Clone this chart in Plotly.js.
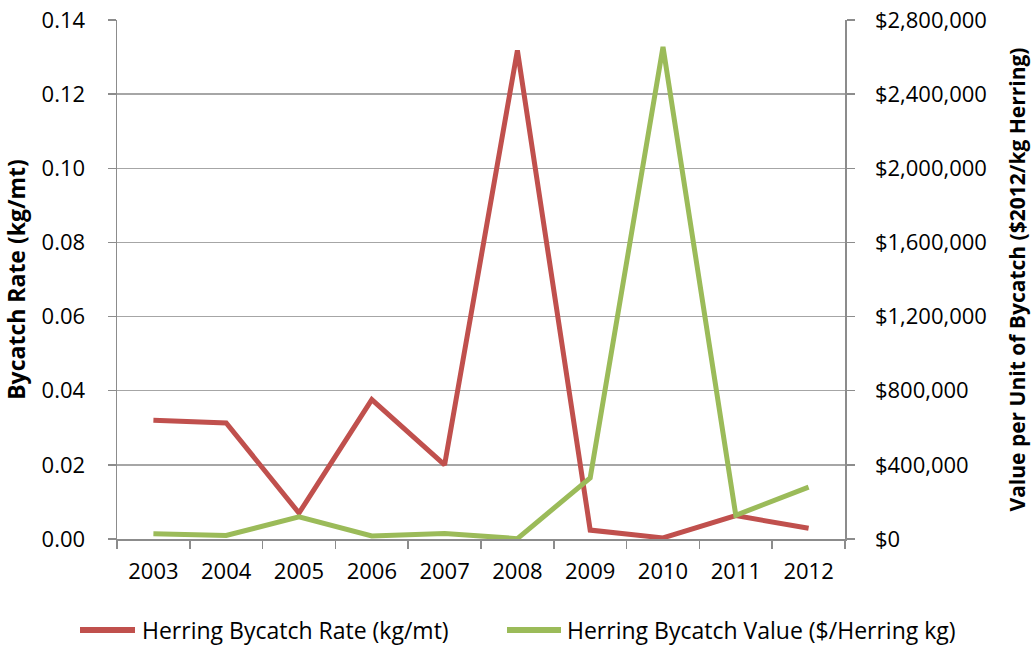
<!DOCTYPE html>
<html>
<head>
<meta charset="utf-8">
<script src="https://cdn.plot.ly/plotly-3.0.1.min.js"></script>
<style>
html,body{margin:0;padding:0;background:#fff;}
#chart{width:1034px;height:648px;}
</style>
</head>
<body>
<div id="chart"></div>
<script>
var years = ['2003','2004','2005','2006','2007','2008','2009','2010','2011','2012'];
var bycatchRate = [0.0320, 0.0313, 0.0070, 0.0376, 0.0200, 0.1318, 0.0024, 0.0003, 0.0063, 0.0029];
var bycatchValue = [28000, 19000, 120000, 16000, 30000, 2000, 330000, 2655000, 128000, 280000];
var rateName = 'Herring Bycatch Rate (kg/mt)';
var valueName = 'Herring Bycatch Value ($/Herring kg)';
var rateColor = '#C0504D';
var valueColor = '#9BBB59';

var font = "'Open Sans', 'Noto Sans', sans-serif";
var gridCol = '#A6A6A6';
var axisCol = '#8C8C8C';

var traces = [
  {x: years, y: bycatchRate, name: rateName, type: 'scatter', mode: 'lines',
   line: {color: rateColor, width: 5}, yaxis: 'y'},
  {x: years, y: bycatchValue, name: valueName, type: 'scatter', mode: 'lines',
   line: {color: valueColor, width: 5}, yaxis: 'y2'}
];

// manual legend (paper coordinates: plot area x 117..845 px, y 20..539 px)
function px2x(p) { return (p - 117) / 728; }
function py2y(p) { return (539 - p) / 519; }
var legY = py2y(630);
var legendItems = [
  {name: rateName, color: rateColor, x0: 80, x1: 135, tx: 140},
  {name: valueName, color: valueColor, x0: 507, x1: 561, tx: 565}
];
var shapes = legendItems.map(function (it) {
  return {type: 'line', xref: 'paper', yref: 'paper', x0: px2x(it.x0), x1: px2x(it.x1),
          y0: legY, y1: legY, line: {color: it.color, width: 6}};
});
var annotations = legendItems.map(function (it) {
  return {xref: 'paper', yref: 'paper', x: px2x(it.tx), y: legY, xanchor: 'left', yanchor: 'middle',
          text: it.name, showarrow: false, font: {family: font, size: 23, color: '#000'}};
});

var layout = {
  width: 1034, height: 648,
  margin: {l: 117, r: 189, t: 20, b: 109},
  paper_bgcolor: '#fff', plot_bgcolor: '#fff',
  font: {family: font, size: 22, color: '#000'},
  showlegend: false,
  shapes: shapes,
  annotations: annotations,
  xaxis: {type: 'category', range: [-0.5, 9.5], tickson: 'boundaries', ticks: 'outside', ticklen: 8,
          tickcolor: axisCol, tickwidth: 1.5, showline: true, linecolor: axisCol, linewidth: 1.5,
          showgrid: false, zeroline: false, ticklabelstandoff: 12,
          tickfont: {family: font, size: 22}},
  yaxis: {range: [0, 0.14], dtick: 0.02, tickformat: '.2f', ticks: 'outside', ticklen: 8,
          tickcolor: axisCol, tickwidth: 1.5, showline: true, linecolor: axisCol, linewidth: 1.5,
          showgrid: true, gridcolor: gridCol, gridwidth: 1.5, zeroline: false,
          ticklabelstandoff: 18, tickfont: {family: font, size: 22},
          title: {text: '<b>Bycatch Rate (kg/mt)</b>', font: {family: font, size: 23}, standoff: 11}},
  yaxis2: {overlaying: 'y', side: 'right', range: [0, 2800000], dtick: 400000, tickformat: '$,.0f',
           ticks: 'outside', ticklen: 8, tickcolor: axisCol, tickwidth: 1.5,
           showline: true, linecolor: axisCol, linewidth: 1.5, showgrid: false, zeroline: false,
           ticklabelstandoff: 16, tickfont: {family: font, size: 22},
           title: {text: '<b>Value per Unit of Bycatch ($2012/kg Herring)</b>', font: {family: font, size: 21}, standoff: 24}}
};

Plotly.newPlot('chart', traces, layout, {displayModeBar: false, staticPlot: true});
</script>
</body>
</html>
